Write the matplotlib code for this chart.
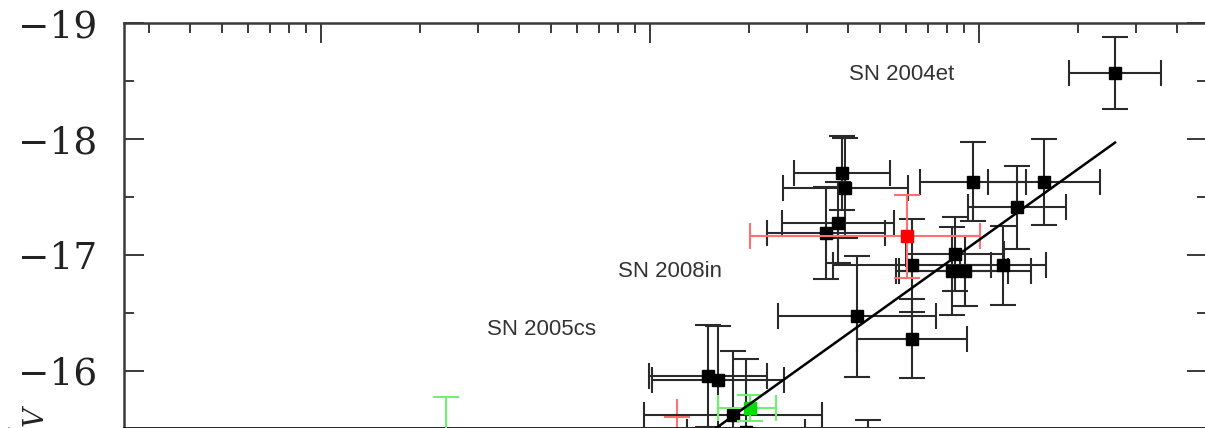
import numpy as np
import matplotlib
matplotlib.use("Agg")
import matplotlib.pyplot as plt
from matplotlib.ticker import LogLocator, MultipleLocator, NullFormatter

# black points: x value, M_V, x error (dex), M_V error
blk_x = [0.259, 0.0383, 0.0392, 0.0373, 0.0343, 0.0626, 0.0959, 0.1576, 0.1305, 0.0845,
         0.0828, 0.0907, 0.1183, 0.0426, 0.0626, 0.0150, 0.0161, 0.0179, 0.0196, 0.046]
blk_y = [-18.57, -17.71, -17.58, -17.28, -17.19, -16.91, -17.63, -17.63, -17.41, -17.01,
         -16.86, -16.86, -16.91, -16.47, -16.28, -15.96, -15.92, -15.62, -15.47, -15.15]
blk_dx = [0.14, 0.146, 0.19, 0.17, 0.18, 0.24, 0.16, 0.17, 0.15, 0.15,
          0.17, 0.20, 0.13, 0.24, 0.167, 0.18, 0.20, 0.27, 0.18, 0.20]
blk_dy = [0.31, 0.32, 0.43, 0.35, 0.40, 0.40, 0.34, 0.37, 0.355, 0.32,
          0.38, 0.30, 0.34, 0.52, 0.34, 0.44, 0.47, 0.55, 0.63, 0.43]

# red point with asymmetric x error (dex)
red_x = [0.0604]
red_y = [-17.16]
red_dx_lo = [0.477]
red_dx_hi = [0.222]
red_dy = [0.355]

# faint red cross (no marker)
red2_x = [0.0121]
red2_y = [-15.60]
red2_dx = [0.04]
red2_dy = [0.16]

# green points
grn_x = [0.0201, 0.0024]
grn_y = [-15.68, -15.23]
grn_dx_lo = [0.097, 0.10]
grn_dx_hi = [0.079, 0.10]
grn_dy = [0.11, 0.55]

# linear fit  M_V = a + b*log10(x)
fit_a = -19.16
fit_b = -2.03
fit_xrange = [0.004, 0.259]

labels = ["SN 2004et", "SN 2008in", "SN 2005cs"]
label_x = [0.0583, 0.0115, 0.00468]
label_y = [-18.56, -16.86, -16.36]


def xerr_from_dex(x, lo, hi):
    x = np.asarray(x)
    return [x - x * 10 ** (-np.asarray(lo)), x * 10 ** np.asarray(hi) - x]


W, H = 1205, 428
fig = plt.figure(figsize=(W / 100, H / 100), dpi=100)

ymax = -19.0
px_per_mag = 116.0
top_px, bot_px, left_px, right_px = 23, 427.5, 124, 1207
ymin = ymax + (bot_px - top_px) / px_per_mag
ax = fig.add_axes([left_px / W, 1 - bot_px / H, (right_px - left_px) / W, (bot_px - top_px) / H])

ax.set_xscale("log")
ax.set_xlim(2.52e-4, 0.493)
ax.set_ylim(ymin, ymax)

ebk = dict(capsize=9.2, elinewidth=1.5, capthick=1.5)

ax.errorbar(blk_x, blk_y, xerr=xerr_from_dex(blk_x, blk_dx, blk_dx), yerr=blk_dy,
            fmt="s", ms=9, color="black", ecolor="#2a2a2a", **ebk, zorder=3)
ax.errorbar(red_x, red_y, xerr=xerr_from_dex(red_x, red_dx_lo, red_dx_hi), yerr=red_dy,
            fmt="s", ms=9, color="red", ecolor="#ff7070", **ebk, zorder=4)
ax.errorbar(red2_x, red2_y, xerr=xerr_from_dex(red2_x, red2_dx, red2_dx), yerr=red2_dy,
            fmt="none", ecolor="#ff7070", elinewidth=1.5, capsize=0, zorder=2)
ax.errorbar(grn_x, grn_y, xerr=xerr_from_dex(grn_x, grn_dx_lo, grn_dx_hi), yerr=grn_dy,
            fmt="s", ms=9, color="#00e000", ecolor="#70f070", **ebk, zorder=4)

fx = np.array(fit_xrange)
ax.plot(fx, fit_a + fit_b * np.log10(fx), color="black", lw=1.8, zorder=5)

for t, x, y in zip(labels, label_x, label_y):
    ax.text(x, y, t, ha="center", va="center", fontsize=16,
            family="Liberation Sans", color="#333333")

# axes styling
for s in ax.spines.values():
    s.set_linewidth(1.8)
    s.set_color("#3a3a3a")
ax.spines["bottom"].set_linewidth(1.2)
ax.spines["bottom"].set_color("black")
ax.xaxis.set_major_locator(LogLocator(base=10))
ax.xaxis.set_minor_locator(LogLocator(base=10, subs=np.arange(2, 10)))
ax.xaxis.set_minor_formatter(NullFormatter())
ax.yaxis.set_major_locator(MultipleLocator(1))
ax.yaxis.set_minor_locator(MultipleLocator(0.5))
ax.tick_params(which="both", direction="in", top=True, right=True, bottom=False,
               color="#3a3a3a")
ax.tick_params(which="major", length=14.5, width=1.4)
ax.tick_params(which="minor", length=7.5, width=1.4)
ax.tick_params(axis="x", labelbottom=False)
ax.tick_params(axis="y", labelsize=27, pad=19, labelcolor="#222222")
for lab in ax.get_yticklabels():
    lab.set_family("DejaVu Serif")

plt.rcParams["mathtext.fontset"] = "dejavuserif"
fig.text(26 / W, 1 - 436 / H, r"$M_V$", rotation=90, ha="center", va="center",
         fontsize=28, family="DejaVu Serif", color="#222222")

fig.savefig("out.png", dpi=100)
